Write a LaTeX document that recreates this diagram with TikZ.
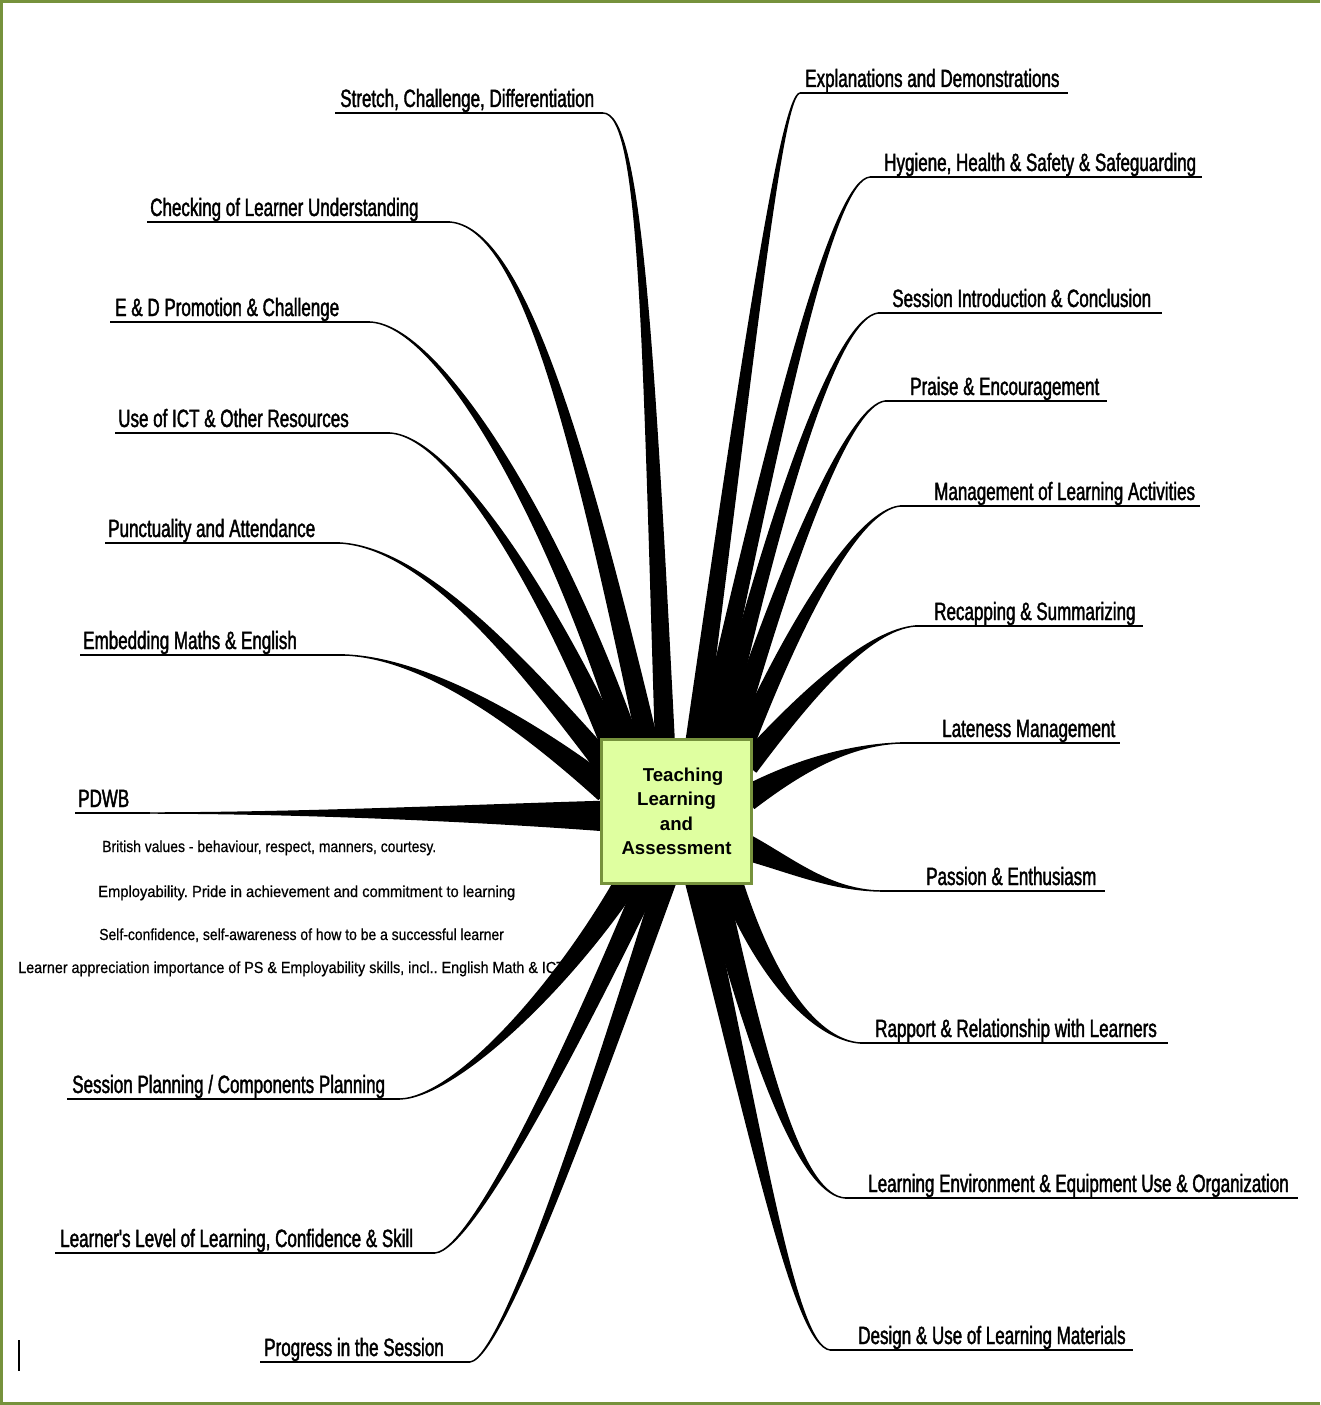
\documentclass[tikz,border=0pt]{standalone}
\usepackage{fontspec}
\usetikzlibrary{calc}
\setmainfont{Liberation Sans}
\newfontfamily\lblfont[FakeStretch=0.68,FakeBold=1.6]{Liberation Sans}
\newfontfamily\subfont[FakeStretch=0.87,FakeBold=0.6]{Liberation Sans}
\newfontfamily\subfontb[FakeStretch=0.92,FakeBold=0.6]{Liberation Sans}
\newfontfamily\subfontc[FakeStretch=0.895,FakeBold=0.6]{Liberation Sans}
\definecolor{frameg}{RGB}{118,146,60}
\definecolor{boxfill}{RGB}{223,255,160}
\tikzset{
  lbl/.style={font=\lblfont\fontsize{18.75}{20}\selectfont, anchor=base west, inner sep=0pt},
  subtxt/.style={font=\subfont\fontsize{12}{14}\selectfont\frenchspacing, anchor=base west, inner sep=0pt},
  uline/.style={line width=1.5pt},
  branchfill/.style={fill=black, draw=black, line width=1.1pt, line join=round},
  ctrbox/.style={draw=frameg, fill=boxfill, line width=2.2pt, minimum width=113pt, minimum height=108pt,
     font=\bfseries\fontsize{14}{18.4}\selectfont, align=center, inner sep=0pt}
}
% #1 end coordinate, #2 control 1, #3 control 2, #4 centre coordinate, #5 half width
\newcommand\tlabranch[5]{%
  \filldraw[branchfill] (#1) .. controls (#2) and ($(#3)!0.55*#5!90:(#4)$) .. ($(#4)!#5!-90:(#3)$)
     -- ($(#4)!#5!90:(#3)$) .. controls ($(#3)!0.55*#5!-90:(#4)$) and (#2) .. (#1) -- cycle;}
\begin{document}
\begin{tikzpicture}[x=0.75pt,y=-0.75pt]
\useasboundingbox (0,0) rectangle (1320,1405);
\fill[white] (0,0) rectangle (1320,1405);
% frame
\fill[frameg] (0,0) rectangle (1320,3);
\fill[frameg] (0,0) rectangle (2.5,1405);
\fill[frameg] (0,1402) rectangle (1320,1405);

% PDWB sub texts
\node[subtxt] (s1) at (102,852) {British values - behaviour, respect, manners, courtesy.};
\node[subtxt, font=\subfontb\fontsize{12}{14}\selectfont\frenchspacing] (s2) at (98,897) {Employability. Pride in achievement and commitment to learning};
\node[subtxt] (s3) at (99,940) {Self-confidence, self-awareness of how to be a successful learner};
\node[subtxt, font=\subfontc\fontsize{12}{14}\selectfont\frenchspacing] (s4) at (18,973) {Learner appreciation importance of PS \& Employability skills, incl.. English Math \& ICT};

% end points of the branches
\coordinate (eSt) at (603,113);
\coordinate (eCh) at (450,222);
\coordinate (eED) at (370,322);
\coordinate (eIC) at (390,433);
\coordinate (ePu) at (340,543);
\coordinate (eEm) at (345,655);
\coordinate (ePD) at (150,813);
\coordinate (eSP) at (400,1099);
\coordinate (eLL) at (435,1253);
\coordinate (ePr) at (470,1362);
\coordinate (eEx) at (800,93);
\coordinate (eHy) at (870,177);
\coordinate (eSI) at (878,313);
\coordinate (ePa) at (885,401);
\coordinate (eMa) at (900,506);
\coordinate (eRe) at (915,626);
\coordinate (eLa) at (900,743);
\coordinate (ePE) at (880,891);
\coordinate (eRa) at (860,1043);
\coordinate (eLE) at (845,1198);
\coordinate (eDe) at (830,1350);

% centre points
\coordinate (cSt) at (665,745);
\coordinate (cCh) at (648,745);
\coordinate (cED) at (630,748);
\coordinate (cIC) at (615,752);
\coordinate (cPu) at (606,765);
\coordinate (cEm) at (606,790);
\coordinate (cPD) at (606,816);
\coordinate (cSP) at (628,880);
\coordinate (cLL) at (648,880);
\coordinate (cPr) at (666,880);
\coordinate (cEx) at (695,745);
\coordinate (cHy) at (706,745);
\coordinate (cSI) at (718,745);
\coordinate (cPa) at (730,745);
\coordinate (cMa) at (742,748);
\coordinate (cRe) at (748,765);
\coordinate (cLa) at (748,798);
\coordinate (cPE) at (748,848);
\coordinate (cRa) at (730,880);
\coordinate (cLE) at (714,880);
\coordinate (cDe) at (696,880);

% branches, left
\tlabranch{eSt}{640,113}{648,330}{cSt}{7pt}
\tlabranch{eCh}{520,228}{575,420}{cCh}{7.5pt}
\tlabranch{eED}{440,325}{555,520}{cED}{8pt}
\tlabranch{eIC}{455,437}{555,610}{cIC}{8pt}
\tlabranch{ePu}{430,548}{535,680}{cPu}{8pt}
\tlabranch{eEm}{420,658}{515,715}{cEm}{9pt}
\tlabranch{ePD}{300,813}{480,813}{cPD}{11pt}
\tlabranch{eSP}{455,1097}{560,990}{cSP}{8.5pt}
\tlabranch{eLL}{475,1250}{585,1020}{cLL}{8pt}
\tlabranch{ePr}{505,1358}{605,1060}{cPr}{7.5pt}
% branches, right
\tlabranch{eEx}{783,95}{755,300}{cEx}{7pt}
\tlabranch{eHy}{835,180}{785,380}{cHy}{7pt}
\tlabranch{eSI}{840,318}{785,470}{cSI}{7pt}
\tlabranch{ePa}{850,405}{790,550}{cPa}{7.5pt}
\tlabranch{eMa}{860,510}{800,610}{cMa}{7.5pt}
\tlabranch{eRe}{870,630}{810,690}{cRe}{8pt}
\tlabranch{eLa}{850,745}{800,765}{cLa}{9pt}
\tlabranch{ePE}{830,890}{790,865}{cPE}{9pt}
\tlabranch{eRa}{820,1040}{770,990}{cRa}{8.5pt}
\tlabranch{eLE}{805,1195}{765,1090}{cLE}{8.5pt}
\tlabranch{eDe}{795,1345}{760,1150}{cDe}{8pt}

% centre box
\node[ctrbox] (ctr) at (676.5,811.5) {\hspace*{0.7em}Teaching\\Learning\\and\\Assessment};

% underlines
\draw[uline] (335,113) -- (eSt);
\draw[uline] (147,222) -- (eCh);
\draw[uline] (110,322) -- (eED);
\draw[uline] (115,433) -- (eIC);
\draw[uline] (105,543) -- (ePu);
\draw[uline] (80,655) -- (eEm);
\draw[uline] (75,813) -- (ePD);
\draw[uline] (67,1099) -- (eSP);
\draw[uline] (55,1253) -- (eLL);
\draw[uline] (260,1362) -- (ePr);
\draw[uline] (eEx) -- (1068,93);
\draw[uline] (eHy) -- (1202,177);
\draw[uline] (eSI) -- (1162,313);
\draw[uline] (ePa) -- (1107,401);
\draw[uline] (eMa) -- (1200,506);
\draw[uline] (eRe) -- (1143,626);
\draw[uline] (eLa) -- (1120,743);
\draw[uline] (ePE) -- (1105,891);
\draw[uline] (eRa) -- (1168,1043);
\draw[uline] (eLE) -- (1298,1198);
\draw[uline] (eDe) -- (1133,1350);

% labels
\node[lbl] (lSt) at (340,107) {Stretch, Challenge, Differentiation};
\node[lbl] (lCh) at (150,216) {Checking of Learner Understanding};
\node[lbl] (lED) at (115,316) {E \& D Promotion \& Challenge};
\node[lbl] (lIC) at (118,427) {Use of ICT \& Other Resources};
\node[lbl] (lPu) at (108,537) {Punctuality and Attendance};
\node[lbl] (lEm) at (83,649) {Embedding Maths \& English};
\node[lbl] (lPD) at (78,807) {PDWB};
\node[lbl] (lSP) at (72,1093) {Session Planning / Components Planning};
\node[lbl] (lLL) at (60,1247) {Learner's Level of Learning, Confidence \& Skill};
\node[lbl] (lPr) at (264,1356) {Progress in the Session};
\node[lbl] (lEx) at (805,87) {Explanations and Demonstrations};
\node[lbl] (lHy) at (884,171) {Hygiene, Health \& Safety \& Safeguarding};
\node[lbl] (lSI) at (892,307) {Session Introduction \& Conclusion};
\node[lbl] (lPa) at (910,395) {Praise \& Encouragement};
\node[lbl] (lMa) at (934,500) {Management of Learning Activities};
\node[lbl] (lRe) at (934,620) {Recapping \& Summarizing};
\node[lbl] (lLa) at (942,737) {Lateness Management};
\node[lbl] (lPE) at (926,885) {Passion \& Enthusiasm};
\node[lbl] (lRa) at (875,1037) {Rapport \& Relationship with Learners};
\node[lbl] (lLE) at (868,1192) {Learning Environment \& Equipment Use \& Organization};
\node[lbl] (lDe) at (858,1344) {Design \& Use of Learning Materials};

% cursor mark
\draw[line width=1.6pt] (19,1340) -- (19,1371);
\end{tikzpicture}
\end{document}
